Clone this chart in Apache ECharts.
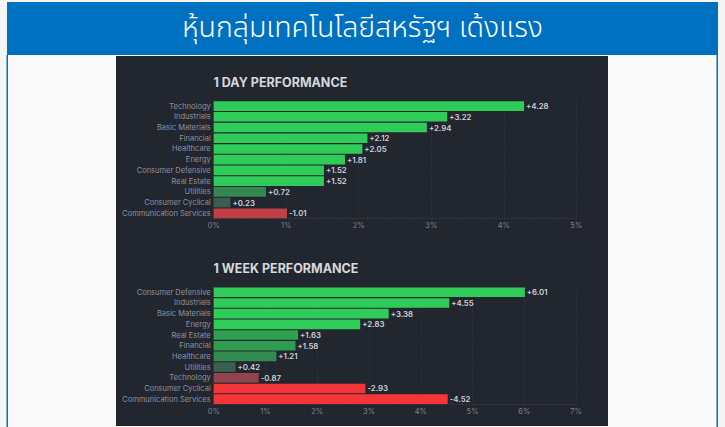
<!DOCTYPE html>
<html>
<head>
<meta charset="utf-8">
<script src="https://cdn.jsdelivr.net/npm/echarts@6/dist/echarts.min.js"></script>
<style>
  html, body { margin: 0; padding: 0; background: #f5f5f5; }
  #main { width: 725px; height: 427px; }
</style>
</head>
<body>
<div id="main"></div>
<script>
// headline
const headline = 'หุ้นกลุ่มเทคโนโลยีสหรัฐฯ เด้งแรง';

// 1 day performance (%)
const dayTitle = '1 DAY PERFORMANCE';
const dayCategories = ['Technology', 'Industrials', 'Basic Materials', 'Financial', 'Healthcare', 'Energy',
  'Consumer Defensive', 'Real Estate', 'Utilities', 'Consumer Cyclical', 'Communication Services'];
const dayValues = [4.28, 3.22, 2.94, 2.12, 2.05, 1.81, 1.52, 1.52, 0.72, 0.23, -1.01];
const dayTicks = [0, 1, 2, 3, 4, 5];

// 1 week performance (%)
const weekTitle = '1 WEEK PERFORMANCE';
const weekCategories = ['Consumer Defensive', 'Industrials', 'Basic Materials', 'Energy', 'Real Estate', 'Financial',
  'Healthcare', 'Utilities', 'Technology', 'Consumer Cyclical', 'Communication Services'];
const weekValues = [6.01, 4.55, 3.38, 2.83, 1.63, 1.58, 1.21, 0.42, -0.87, -2.93, -4.52];
const weekTicks = [0, 1, 2, 3, 4, 5, 6, 7];

// finviz style colour ramp, -3 .. +3 steps
const ramp = ['#f63538', '#bf4045', '#8b444e', '#414554', '#35764e', '#2f9e4f', '#30cc5a'];

function hex(c) {
  return [1, 3, 5].map(i => parseInt(c.slice(i, i + 2), 16));
}
function colorFor(v, step) {
  let s = Math.max(-3, Math.min(3, v / step)) + 3;
  let i = Math.min(5, Math.floor(s));
  let t = s - i;
  let a = hex(ramp[i]), b = hex(ramp[i + 1]);
  let m = a.map((x, k) => Math.round(x + (b[k] - x) * t));
  return 'rgb(' + m.join(',') + ')';
}

function fmt(v) {
  return (v > 0 ? '+' : '') + v.toFixed(2);
}

const font = 'Inter, "Noto Sans", sans-serif';

function makeAxes(idx, cats, ticks) {
  let x = {
    type: 'value',
    gridIndex: idx,
    min: ticks[0],
    max: ticks[ticks.length - 1],
    interval: 1,
    axisLine: { show: true, lineStyle: { color: '#363a47', type: [1, 2] } },
    axisTick: { show: false },
    axisLabel: { color: '#7d8190', fontSize: 7.5, fontFamily: font, margin: 3, formatter: '{value}%' },
    splitLine: { show: true, lineStyle: { color: '#363a47', type: [1, 2] } }
  };
  let y = {
    type: 'category',
    gridIndex: idx,
    data: cats,
    inverse: true,
    axisLine: { show: false },
    axisTick: { show: false },
    axisLabel: { color: '#8e92a0', fontSize: 7.5, fontFamily: font, margin: 3 },
    splitLine: { show: false }
  };
  return [x, y];
}

function makeSeries(idx, vals, step) {
  return {
    type: 'bar',
    xAxisIndex: idx,
    yAxisIndex: idx,
    barCategoryGap: '10%',
    data: vals.map(v => ({
      value: Math.abs(v),
      itemStyle: { color: colorFor(v, step) }
    })),
    label: {
      show: true,
      position: 'right',
      distance: 2,
      color: '#cfd2da',
      fontSize: 7.8,
      fontWeight: 600,
      fontFamily: font,
      formatter: p => fmt(vals[p.dataIndex])
    },
    silent: true
  };
}

const dayAxes = makeAxes(0, dayCategories, dayTicks);
const weekAxes = makeAxes(1, weekCategories, weekTicks);

const chart = echarts.init(document.getElementById('main'), null, { renderer: 'svg' });
chart.setOption({
  animation: false,
  backgroundColor: '#f5f5f5',
  graphic: [
    { type: 'rect', z: -10, shape: { x: 7, y: 2, width: 711, height: 425 }, style: { fill: '#f9f9f9' } },
    { type: 'rect', z: -9, shape: { x: 7, y: 2, width: 711, height: 53 }, style: { fill: '#0070c0' } },
    { type: 'rect', z: -9, shape: { x: 6.5, y: 55, width: 1.5, height: 372 }, style: { fill: '#0070c0' } },
    { type: 'rect', z: -9, shape: { x: 716.5, y: 55, width: 1.5, height: 372 }, style: { fill: '#0070c0' } },
    { type: 'rect', z: -9, shape: { x: 116, y: 56, width: 492, height: 370 }, style: { fill: '#22262f' } },
    {
      type: 'text', z: 10, x: 362.5, y: 28,
      style: {
        text: headline, fill: '#ffffff', fontSize: 28.5, fontWeight: 300,
        fontFamily: '"Noto Sans Thai", "Noto Sans", sans-serif',
        align: 'center', verticalAlign: 'middle'
      }
    }
  ],
  title: [
    { text: dayTitle, left: 213.5, top: 75.5, padding: 0,
      textStyle: { color: '#d6d8de', fontSize: 12.5, fontWeight: 'bold', fontFamily: font, lineHeight: 13 } },
    { text: weekTitle, left: 213.5, top: 261.5, padding: 0,
      textStyle: { color: '#d6d8de', fontSize: 12.5, fontWeight: 'bold', fontFamily: font, lineHeight: 13 } }
  ],
  grid: [
    { left: 213.7, top: 100.7, width: 362.6, height: 118, containLabel: false },
    { left: 213.7, top: 286.9, width: 362.4, height: 117.6, containLabel: false }
  ],
  xAxis: [dayAxes[0], weekAxes[0]],
  yAxis: [dayAxes[1], weekAxes[1]],
  series: [makeSeries(0, dayValues, 0.5), makeSeries(1, weekValues, 0.8)]
});
</script>
</body>
</html>
